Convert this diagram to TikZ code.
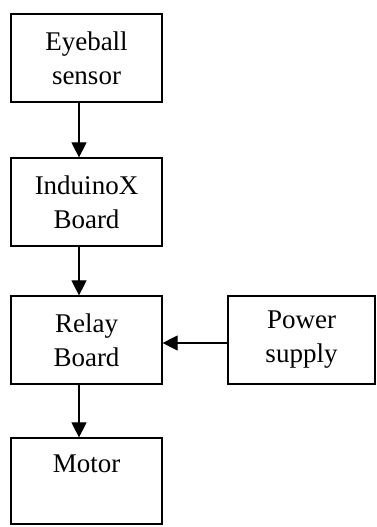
\documentclass[tikz,border=0pt]{standalone}
\usepackage{fontspec}
\setmainfont{Liberation Serif}
\usetikzlibrary{arrows.meta}

\begin{document}
\begin{tikzpicture}[x=1pt,y=1pt,
		blk/.style={draw=black, line width=1.2pt, minimum width=151pt, minimum height=88pt, inner sep=0pt, align=center, font=\fontsize{27}{34}\selectfont},
		arr/.style={line width=1.2pt, -{Triangle[length=15pt,width=15pt]}}]
		\useasboundingbox (0,0) rectangle (377,527);
		\node[blk] (eye) at (86.5,469){Eyeball\\sensor};
		\node[blk] (ind) at (86.5,325){InduinoX\\Board};
		\node[blk] (rly) at (86.5,187){Relay\\Board};
		\node[blk, minimum height=86pt] (mot) at (86.5,46){Motor\\\mbox{}};
		\node[blk, minimum width=147pt] (pwr) at (301.5,187){Power\\supply};
		%
		\draw[arr] ([xshift=-7.5pt]eye.south) -- ([xshift=-7.5pt]ind.north);
		\draw[arr] ([xshift=-7.5pt]ind.south) -- ([xshift=-7.5pt]rly.north);
		\draw[arr] ([xshift=-7.5pt]rly.south) -- ([xshift=-7.5pt]mot.north);
		\draw[arr] ([yshift=-3pt]pwr.west) -- ([yshift=-3pt]rly.east);
	\end{tikzpicture}
\end{document}
